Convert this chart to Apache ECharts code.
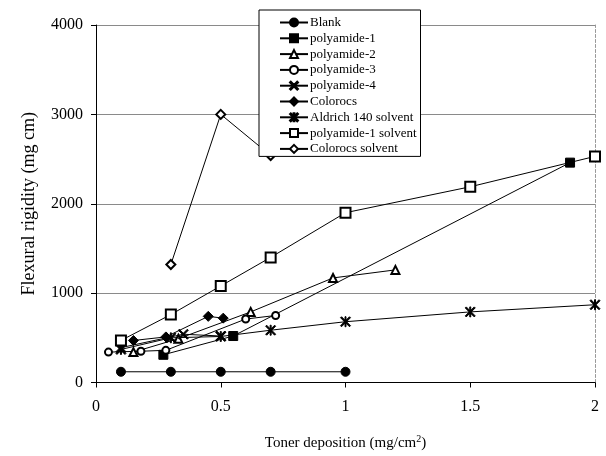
<!DOCTYPE html>
<html>
<head>
<meta charset="utf-8">
<script src="https://cdn.jsdelivr.net/npm/echarts@6/dist/echarts.min.js"></script>
<style>
  html, body { margin: 0; padding: 0; background: #fff; }
  #chart { width: 606px; height: 456px; }
</style>
</head>
<body>
<div id="chart"></div>
<script>
// data: [toner deposition, flexural rigidity]
const blank = [[0.1, 120], [0.3, 120], [0.5, 120], [0.7, 120], [1.0, 120]]
const polyamide1 = [[0.27, 310], [0.55, 520], [1.9, 2460]]
const polyamide2 = [[0.15, 340], [0.33, 490], [0.62, 790], [0.95, 1170], [1.2, 1260]]
const polyamide3 = [[0.05, 340], [0.18, 350], [0.28, 360], [0.6, 710], [0.72, 750]]
const polyamide4 = [[0.1, 390], [0.35, 540], [0.5, 520]]
const colorocs = [[0.15, 470], [0.28, 510], [0.45, 740], [0.51, 720]]
const aldrich = [[0.1, 370], [0.3, 500], [0.5, 515], [0.7, 585], [1.0, 680], [1.5, 790], [2.0, 870]]
const polyamide1Solvent = [[0.1, 470], [0.3, 760], [0.5, 1080], [0.7, 1400], [1.0, 1900], [1.5, 2190], [2.0, 2530]]
const colorocsSolvent = [[0.3, 1320], [0.5, 3000], [0.7, 2540]]

const xTicks = [0, 0.5, 1, 1.5, 2]
const yTicks = [0, 1000, 2000, 3000, 4000]

// 符号
const xMark = 'path://M0,1L1,0L10,9L9,10Z M9,0L10,1L1,10L0,9Z'
const starMark = 'path://M0,1L1,0L10,9L9,10Z M9,0L10,1L1,10L0,9Z M4.5,0L5.5,0L5.5,10L4.5,10Z'

const font = 'Liberation Serif'

function line (name, data, symbol, size) {
  return {
    name: name,
    type: 'line',
    data: data,
    symbol: symbol,
    symbolSize: size,
    showSymbol: true,
    lineStyle: { color: '#000', width: 1 },
    itemStyle: { color: '#000', borderColor: '#000', borderWidth: 1 },
    emphasis: { disabled: true },
    z: 3
  }
}

const series = [
  line('Blank', blank, 'circle', 9),
  line('polyamide-1', polyamide1, 'rect', 9),
  line('polyamide-2', polyamide2, 'emptyTriangle', 8),
  line('polyamide-3', polyamide3, 'emptyCircle', 7),
  line('polyamide-4', polyamide4, xMark, 10),
  line('Colorocs', colorocs, 'diamond', 10),
  line('Aldrich 140 solvent', aldrich, starMark, 10),
  line('polyamide-1 solvent', polyamide1Solvent, 'emptyRect', 10),
  line('Colorocs solvent', colorocsSolvent, 'emptyDiamond', 9)
]

const chart = echarts.init(document.getElementById('chart'))
chart.setOption({
  animation: false,
  backgroundColor: '#fff',
  textStyle: { fontFamily: font, color: '#000' },
  grid: { left: 96, right: 11, top: 25, bottom: 72 },
  legend: {
    orient: 'vertical',
    left: 259,
    top: 10,
    padding: [6, 4, 1, 20],
    itemGap: 2.8,
    itemWidth: 28,
    itemHeight: 10,
    backgroundColor: '#fff',
    borderColor: '#000',
    borderWidth: 1,
    textStyle: { fontFamily: font, fontSize: 13, lineHeight: 13, color: '#000', padding: [0, 0, 0, -3] },
    data: series.map(s => s.name)
  },
  xAxis: {
    type: 'value',
    min: xTicks[0],
    max: xTicks[xTicks.length - 1],
    interval: 0.5,
    name: 'Toner deposition (mg/cm{sup|2})',
    nameLocation: 'middle',
    nameGap: 52,
    nameTextStyle: {
      fontFamily: font,
      fontSize: 15,
      color: '#000',
      rich: { sup: { fontFamily: font, fontSize: 10, verticalAlign: 'top', padding: [0, 0, 8, 0] } }
    },
    axisLine: { lineStyle: { color: '#000' } },
    axisTick: { show: true, length: 5, lineStyle: { color: '#000' } },
    axisLabel: { fontFamily: font, fontSize: 16, color: '#000', margin: 16 },
    splitLine: { show: false }
  },
  yAxis: [
    {
      type: 'value',
      min: yTicks[0],
      max: yTicks[yTicks.length - 1],
      interval: 1000,
      name: 'Flexural rigidity (mg cm)',
      nameLocation: 'middle',
      nameGap: 58,
      nameTextStyle: { fontFamily: font, fontSize: 18, color: '#000' },
      axisLine: { show: true, lineStyle: { color: '#000' } },
      axisTick: { show: true, length: 5, lineStyle: { color: '#000' } },
      axisLabel: { fontFamily: font, fontSize: 16, color: '#000', margin: 13, formatter: v => String(v) },
      splitLine: { show: true, lineStyle: { color: '#8a8a8a', width: 1 } }
    },
    {
      // 右边框
      type: 'value',
      position: 'right',
      min: 0,
      max: 4000,
      interval: 1000,
      axisLine: { show: true, lineStyle: { color: '#999', type: [3, 2] } },
      axisTick: { show: false },
      axisLabel: { show: false },
      splitLine: { show: false }
    }
  ],
  series: series
})
</script>
</body>
</html>
